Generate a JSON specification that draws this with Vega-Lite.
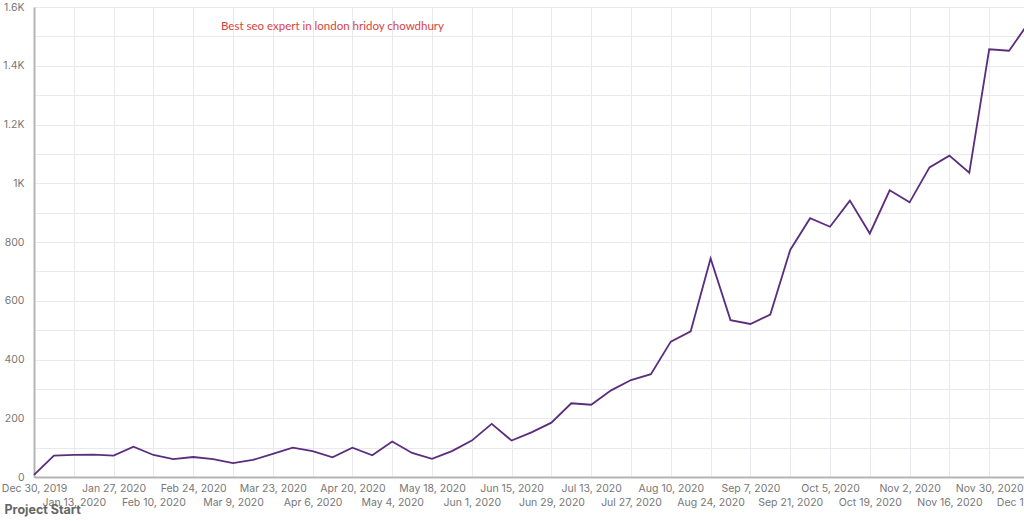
{
  "$schema": "https://vega.github.io/schema/vega-lite/v6.json",
  "autosize": {"type": "none"},
  "padding": {"left": 34, "top": 7, "right": 0, "bottom": 44},
  "width": 995,
  "height": 470,
  "background": "white",
  "config": {"view": {"stroke": null}},
  "datasets": {
    "series": [
      {"week": "2019-12-30T00:00:00", "value": 7},
      {"week": "2020-01-06T00:00:00", "value": 73},
      {"week": "2020-01-13T00:00:00", "value": 75},
      {"week": "2020-01-20T00:00:00", "value": 76},
      {"week": "2020-01-27T00:00:00", "value": 73},
      {"week": "2020-02-03T00:00:00", "value": 103},
      {"week": "2020-02-10T00:00:00", "value": 75},
      {"week": "2020-02-17T00:00:00", "value": 61},
      {"week": "2020-02-24T00:00:00", "value": 68},
      {"week": "2020-03-02T00:00:00", "value": 61},
      {"week": "2020-03-09T00:00:00", "value": 47},
      {"week": "2020-03-16T00:00:00", "value": 58},
      {"week": "2020-03-23T00:00:00", "value": 79},
      {"week": "2020-03-30T00:00:00", "value": 100},
      {"week": "2020-04-06T00:00:00", "value": 88},
      {"week": "2020-04-13T00:00:00", "value": 67},
      {"week": "2020-04-20T00:00:00", "value": 100},
      {"week": "2020-04-27T00:00:00", "value": 74},
      {"week": "2020-05-04T00:00:00", "value": 121},
      {"week": "2020-05-11T00:00:00", "value": 82},
      {"week": "2020-05-18T00:00:00", "value": 62},
      {"week": "2020-05-25T00:00:00", "value": 88},
      {"week": "2020-06-01T00:00:00", "value": 124},
      {"week": "2020-06-08T00:00:00", "value": 181},
      {"week": "2020-06-15T00:00:00", "value": 124},
      {"week": "2020-06-22T00:00:00", "value": 152},
      {"week": "2020-06-29T00:00:00", "value": 185},
      {"week": "2020-07-06T00:00:00", "value": 251},
      {"week": "2020-07-13T00:00:00", "value": 246},
      {"week": "2020-07-20T00:00:00", "value": 295},
      {"week": "2020-07-27T00:00:00", "value": 330},
      {"week": "2020-08-03T00:00:00", "value": 350},
      {"week": "2020-08-10T00:00:00", "value": 461},
      {"week": "2020-08-17T00:00:00", "value": 496},
      {"week": "2020-08-24T00:00:00", "value": 744},
      {"week": "2020-08-31T00:00:00", "value": 534},
      {"week": "2020-09-07T00:00:00", "value": 521},
      {"week": "2020-09-14T00:00:00", "value": 553},
      {"week": "2020-09-21T00:00:00", "value": 773},
      {"week": "2020-09-28T00:00:00", "value": 881},
      {"week": "2020-10-05T00:00:00", "value": 852},
      {"week": "2020-10-12T00:00:00", "value": 941},
      {"week": "2020-10-19T00:00:00", "value": 829},
      {"week": "2020-10-26T00:00:00", "value": 976},
      {"week": "2020-11-02T00:00:00", "value": 935},
      {"week": "2020-11-09T00:00:00", "value": 1054},
      {"week": "2020-11-16T00:00:00", "value": 1094},
      {"week": "2020-11-23T00:00:00", "value": 1036},
      {"week": "2020-11-30T00:00:00", "value": 1456},
      {"week": "2020-12-07T00:00:00", "value": 1451},
      {"week": "2020-12-14T00:00:00", "value": 1548}
    ],
    "note": [
      {"week": "2020-04-13T00:00:00", "value": 1532, "label": "Best seo expert in london hridoy chowdhury"}
    ]
  },
  "layer": [
    {
      "data": {"name": "series"},
      "mark": {"type": "line", "color": "#5b2d7d", "strokeWidth": 1.8, "clip": false},
      "encoding": {
        "x": {
          "field": "week",
          "type": "temporal",
          "scale": {"domain": [{"year": 2019, "month": 12, "date": 30}, {"year": 2020, "month": 12, "date": 14}]},
          "axis": {
            "tickCount": 40,
            "values": [
              {"year": 2019, "month": 12, "date": 30},
              {"year": 2020, "month": 1, "date": 13},
              {"year": 2020, "month": 1, "date": 27},
              {"year": 2020, "month": 2, "date": 10},
              {"year": 2020, "month": 2, "date": 24},
              {"year": 2020, "month": 3, "date": 9},
              {"year": 2020, "month": 3, "date": 23},
              {"year": 2020, "month": 4, "date": 6},
              {"year": 2020, "month": 4, "date": 20},
              {"year": 2020, "month": 5, "date": 4},
              {"year": 2020, "month": 5, "date": 18},
              {"year": 2020, "month": 6, "date": 1},
              {"year": 2020, "month": 6, "date": 15},
              {"year": 2020, "month": 6, "date": 29},
              {"year": 2020, "month": 7, "date": 13},
              {"year": 2020, "month": 7, "date": 27},
              {"year": 2020, "month": 8, "date": 10},
              {"year": 2020, "month": 8, "date": 24},
              {"year": 2020, "month": 9, "date": 7},
              {"year": 2020, "month": 9, "date": 21},
              {"year": 2020, "month": 10, "date": 5},
              {"year": 2020, "month": 10, "date": 19},
              {"year": 2020, "month": 11, "date": 2},
              {"year": 2020, "month": 11, "date": 16},
              {"year": 2020, "month": 11, "date": 30},
              {"year": 2020, "month": 12, "date": 14}
            ],
            "format": "%b %-d, %Y",
            "labelOverlap": false,
            "labelFlush": false,
            "labelBound": false,
            "labelBaseline": "top",
            "labelPadding": {
              "condition": {"test": "round((datum.value - datetime(2019, 11, 30)) / 604800000) % 4 == 2", "value": 20},
              "value": 6
            },
            "labelFont": "Inter",
            "labelFontSize": 10.5,
            "labelColor": "#777777",
            "ticks": false,
            "domainColor": "#b4b4b4",
            "domainWidth": 2,
            "gridColor": "#e8e8ee",
            "gridWidth": 1,
            "title": "Project Start",
            "titleFont": "Inter",
            "titleFontSize": 12.5,
            "titleFontWeight": "bold",
            "titleColor": "#666666",
            "titleAnchor": "start",
            "titleAlign": "left",
            "titleBaseline": "middle",
            "titleX": -30,
            "titleY": 32
          }
        },
        "y": {
          "field": "value",
          "type": "quantitative",
          "scale": {"domain": [0, 1600], "nice": false},
          "axis": {
            "tickCount": 20,
            "values": [0, 100, 200, 300, 400, 500, 600, 700, 800, 900, 1000, 1100, 1200, 1300, 1400, 1500, 1600],
            "labelExpr": "datum.value % 200 != 0 ? '' : (datum.value >= 1000 ? format(datum.value / 1000, '~g') + 'K' : format(datum.value, 'd'))",
            "labelFont": "Inter",
            "labelFontSize": 10.5,
            "labelColor": "#777777",
            "labelPadding": 10,
            "ticks": false,
            "domainColor": "#b4b4b4",
            "domainWidth": 2,
            "gridColor": "#e8e8ee",
            "gridWidth": 1,
            "title": null
          }
        }
      }
    },
    {
      "data": {"name": "note"},
      "mark": {"type": "text", "color": "#d9413f", "font": "Lato", "fontSize": 11.5, "align": "center", "baseline": "middle"},
      "encoding": {
        "x": {"field": "week", "type": "temporal"},
        "y": {"field": "value", "type": "quantitative"},
        "text": {"field": "label"}
      }
    }
  ]
}
